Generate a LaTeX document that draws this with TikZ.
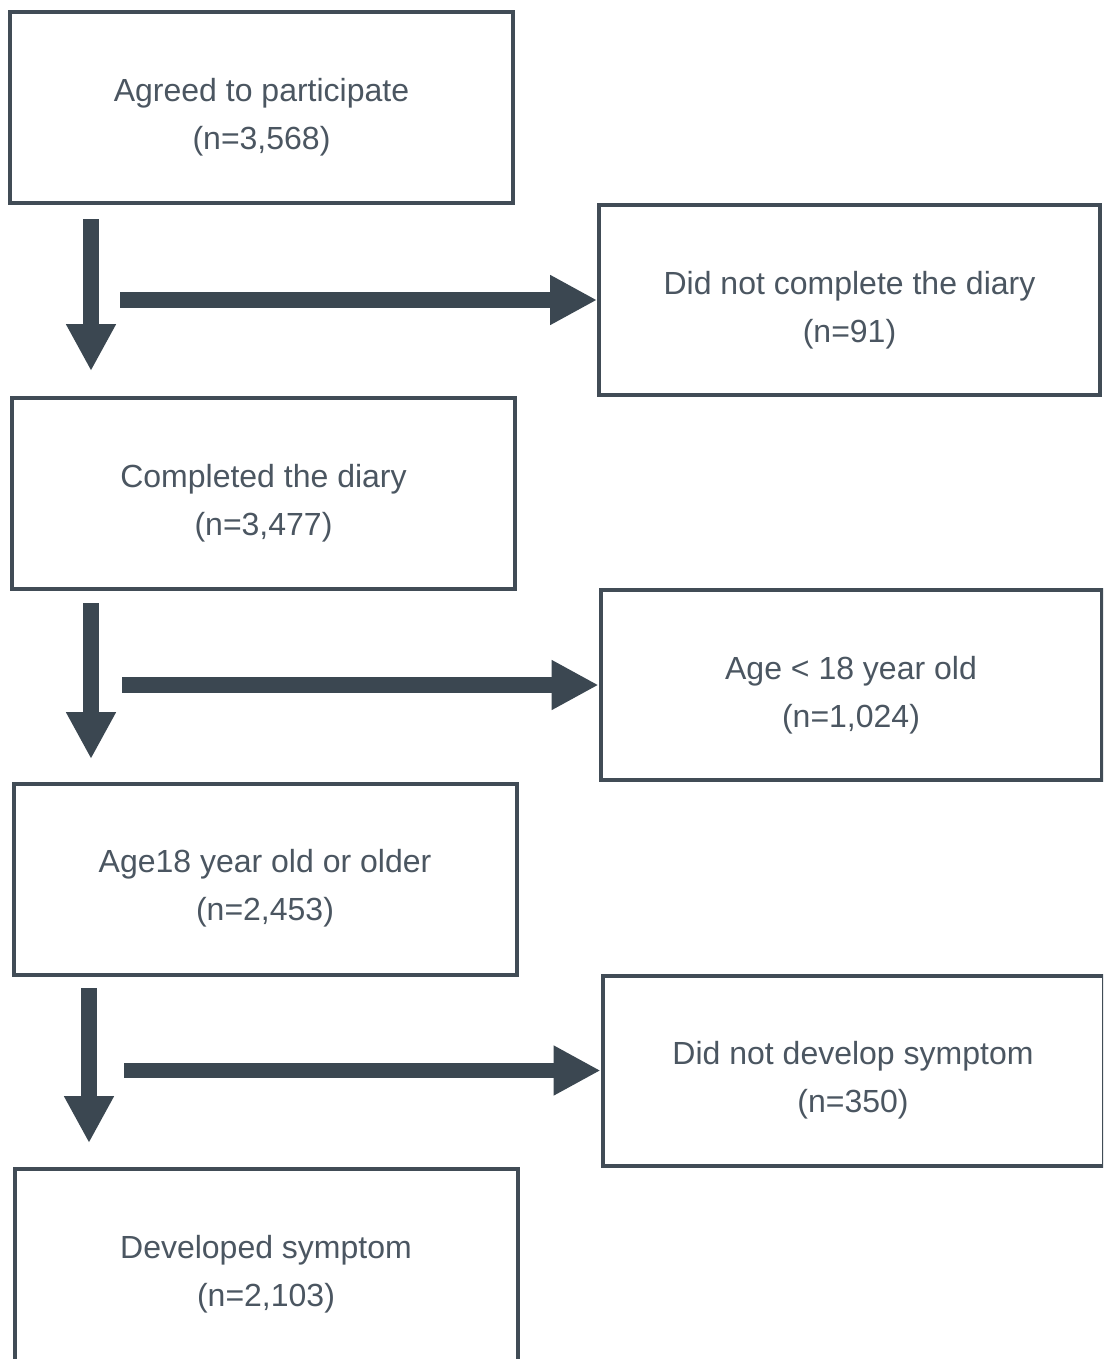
\documentclass[tikz,border=0pt]{standalone}
\usepackage{fontspec}
\setmainfont{Liberation Sans}
\usetikzlibrary{arrows.meta,calc}
\definecolor{edgecol}{HTML}{414C56}
\definecolor{arrcol}{HTML}{3B4751}
\definecolor{txtcol}{HTML}{4B5661}
\tikzset{
  box/.style={draw=edgecol, line width=2pt, inner sep=0pt, fill=none},
  lbox/.style={box, minimum width=251.5pt, minimum height=95.5pt},
  rbox/.style={box, minimum width=250.5pt, minimum height=95pt},
  txt/.style={text=txtcol, font=\fontsize{16pt}{24pt}\selectfont, align=center, inner sep=0pt},
  fatarrow/.style={draw=arrcol, line width=7.75pt, -{Triangle[length=23.5pt, width=23.5pt]}}
}
\begin{document}
\begin{tikzpicture}[x=0.5pt, y=-0.5pt]
\useasboundingbox (0,0) rectangle (1103,1359);
\clip (0,0) rectangle (1103,1359);
\fill[white] (0,0) rectangle (1103,1359);
% left column boxes
\node[lbox] (b1) at (261.5,107.5) {};
\node[lbox] (b2) at (263.5,493.5) {};
\node[lbox] (b3) at (265,879) {};
\node[lbox, minimum height=98pt] (b4) at (266,1267) {};
% right column boxes
\node[rbox] (r1) at (849.5,300) {};
\node[rbox] (r2) at (851,685) {};
\node[rbox] (r3) at (853,1070.5) {};
% texts
\node[txt] (t1) at ([yshift=-53.5pt]b1.north) {Agreed to participate\\(n=3,568)};
\node[txt] (t2) at ([yshift=-53.5pt]b2.north) {Completed the diary\\(n=3,477)};
\node[txt] (t3) at ([yshift=-53.5pt]b3.north) {Age18 year old or older\\(n=2,453)};
\node[txt] (t4) at ([yshift=-53.5pt]b4.north) {Developed symptom\\(n=2,103)};
\node[txt] (u1) at ([yshift=-53.5pt]r1.north) {Did not complete the diary\\(n=91)};
\node[txt] (u2) at ([yshift=-53.5pt]r2.north) {Age < 18 year old\\(n=1,024)};
\node[txt] (u3) at ([yshift=-53.5pt]r3.north) {Did not develop symptom\\(n=350)};
% free ends of the arrows
\coordinate (d1a) at (91,219);
\coordinate (d1b) at (91,371);
\coordinate (d2a) at (91,603);
\coordinate (d2b) at (91,759);
\coordinate (d3a) at (89,988);
\coordinate (d3b) at (89,1143);
\coordinate (h1a) at (120,300);
\coordinate (h2a) at (122,685);
\coordinate (h3a) at (124,1070.5);
% arrows
\draw[fatarrow] (d1a) -- (d1b);
\draw[fatarrow] (d2a) -- (d2b);
\draw[fatarrow] (d3a) -- (d3b);
\draw[fatarrow] (h1a) -- (r1.west);
\draw[fatarrow] (h2a) -- (r2.west);
\draw[fatarrow] (h3a) -- (r3.west);
\end{tikzpicture}
\end{document}
